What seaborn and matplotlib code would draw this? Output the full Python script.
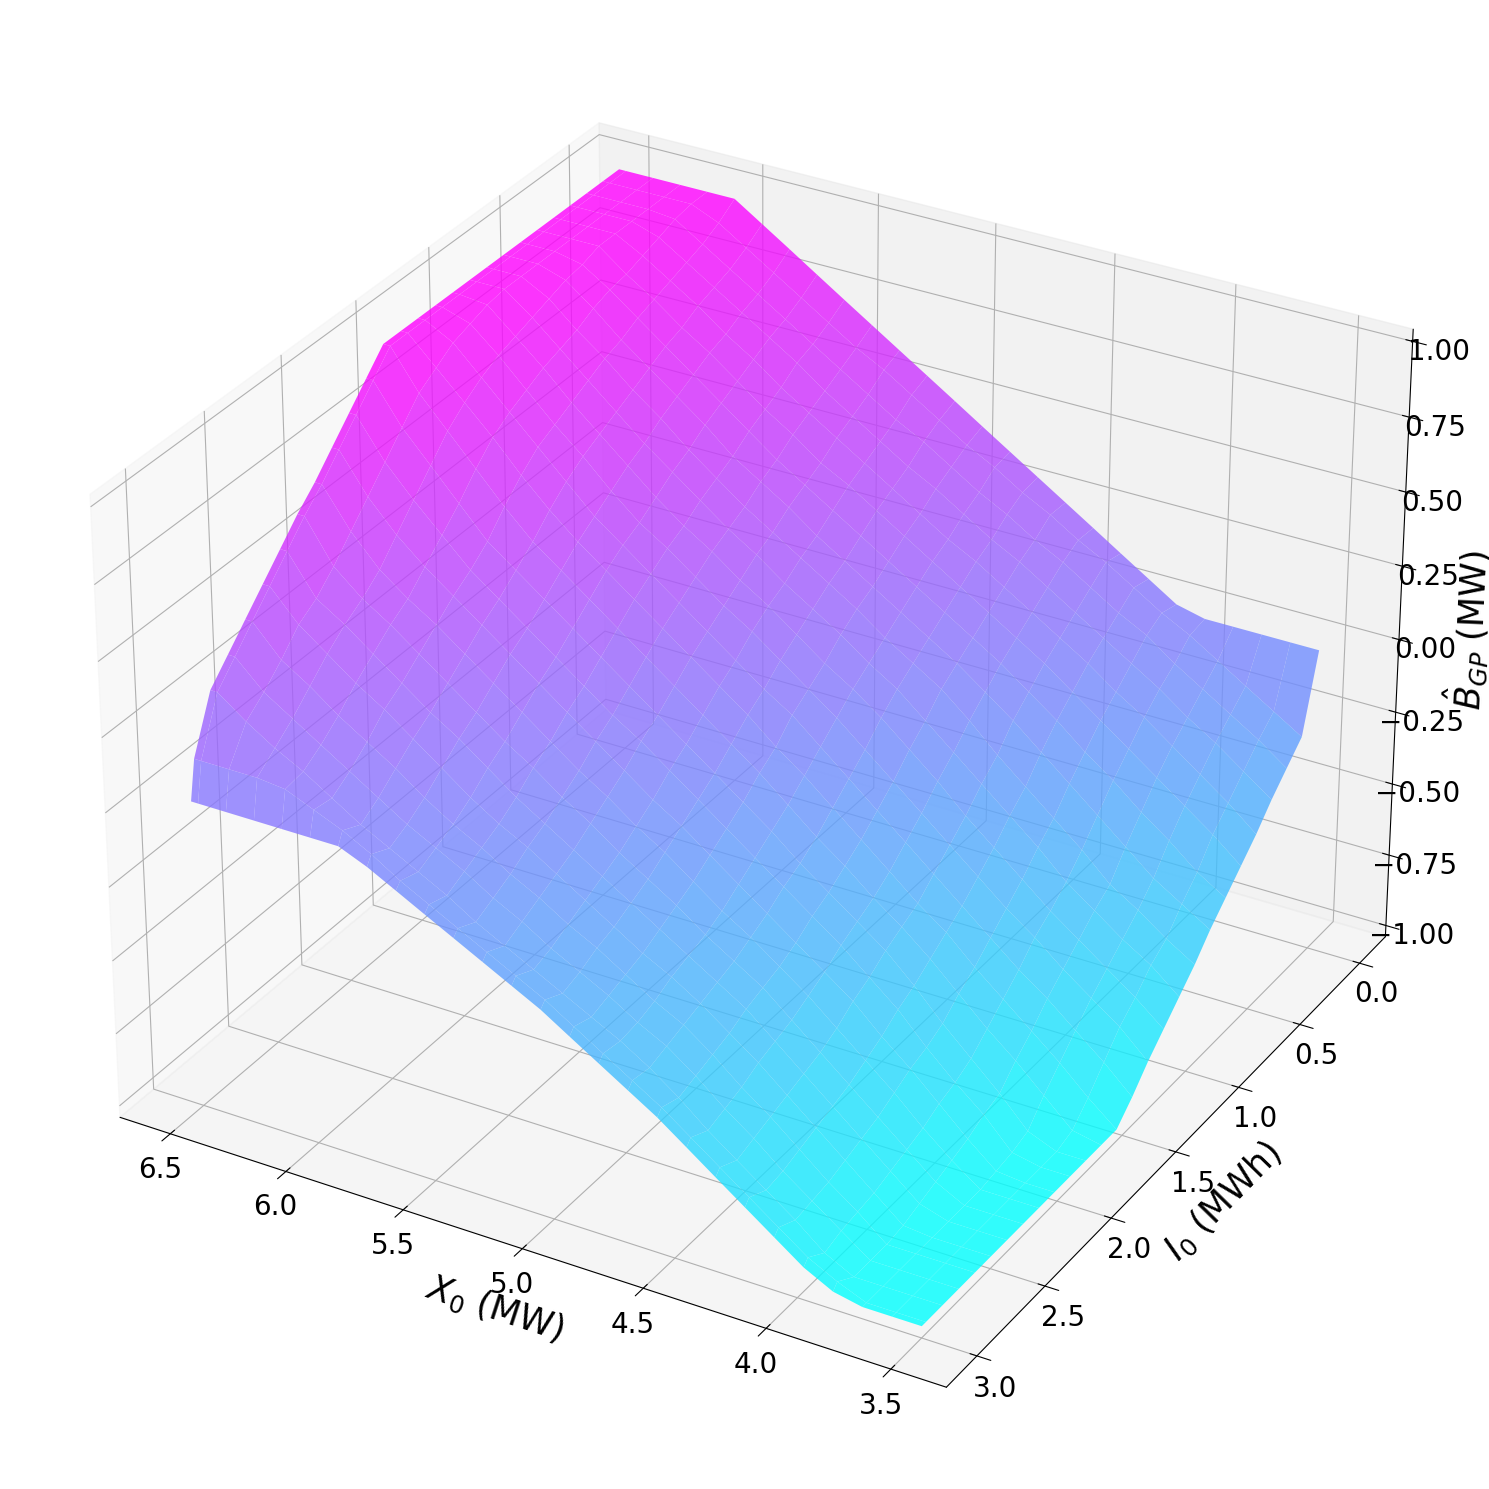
import numpy as np
import matplotlib
matplotlib.use("Agg")
import matplotlib.pyplot as plt
import seaborn as sns

# Surface axes (MW, MWh)
x0_mw = [3.5, 3.619, 3.738, 3.856, 3.975, 4.094, 4.213, 4.332, 4.45, 4.569, 4.688, 4.807, 4.926, 5.044,
         5.163, 5.282, 5.401, 5.52, 5.638, 5.757, 5.876, 5.995, 6.114, 6.232, 6.351, 6.47, 6.5]
i0_mwh = [0.0, 0.119, 0.238, 0.356, 0.475, 0.594, 0.713, 0.832, 0.95, 1.069, 1.188, 1.307, 1.426, 1.544,
          1.663, 1.782, 1.901, 2.02, 2.138, 2.257, 2.376, 2.495, 2.614, 2.732, 2.851, 2.97, 3.0]

# B_GP in hundredths of a MW, one row per I0 value, one column per X0 value
b_gp_centi_mw = [
 [0,0,0,0,0,2.3,8.4,14.5,20.6,26.7,32.8,38.9,45,51.1,57.2,63.3,69.4,75.5,81.6,87.8,93.9,100,100,100,100,100,100],
 [-25,-19,-13,-7,-1,4,10,16,21,27,32,38,43,49,55,61,66,72,78,84,90,96,100,100,100,100,100],
 [-31,-24,-18,-12,-6,1,6,12,18,23,29,34,40,46,51,57,63,69,75,81,87,93,99,100,100,100,100],
 [-37,-30,-23,-17,-10,-4,2,8,14,20,25,31,37,42,48,54,60,67,73,79,85,91,97,100,100,100,100],
 [-44,-36,-29,-22,-15,-9,-2,4,10,16,22,27,33,39,45,51,57,63,70,76,83,89,95,100,100,100,100],
 [-50,-42,-35,-28,-21,-14,-7,0,6,12,18,24,30,36,42,47,54,60,67,74,80,87,93,100,100,100,100],
 [-56,-50,-42,-35,-27,-20,-12,-5,2,8,14,20,26,32,38,44,50,57,64,71,78,85,92,98,100,100,100],
 [-62,-56,-50,-42,-34,-26,-18,-10,-3,4,10,16,22,28,34,41,47,53,61,68,75,82,90,97,100,100,100],
 [-69,-63,-56,-50,-41,-33,-25,-17,-8,0,6,12,19,25,31,37,43,50,57,65,72,80,87,95,100,100,100],
 [-75,-67,-61,-54,-47,-38,-30,-22,-14,-6,2,8,15,21,27,34,40,47,54,61,69,77,85,93,100,100,100],
 [-81,-73,-66,-59,-52,-44,-36,-28,-19,-11,-3,4,10,17,24,30,37,43,50,58,66,74,83,91,99,100,100],
 [-87,-78,-71,-64,-56,-49,-41,-33,-25,-17,-9,-1,6,13,20,26,33,40,46,54,63,71,80,89,97,100,100],
 [-94,-85,-77,-69,-62,-54,-46,-38,-30,-22,-14,-6,2,8,15,22,29,36,43,50,59,68,77,86,95,100,100],
 [-100,-92,-83,-75,-67,-59,-50,-43,-35,-27,-19,-11,-4,4,11,18,25,32,39,46,54,63,73,82,91,100,100],
 [-100,-98,-89,-80,-72,-63,-54,-46,-39,-31,-24,-16,-8,-1,6,13,20,27,34,41,48,57,67,77,87,100,100],
 [-100,-100,-96,-86,-77,-68,-58,-49,-42,-35,-28,-20,-13,-6,1,8,15,22,29,36,43,50,60,70,80,93,93],
 [-100,-100,-98,-88,-80,-71,-61,-53,-45,-38,-31,-24,-17,-10,-3,4,10,17,24,31,38,45,54,63,73,86,86],
 [-100,-100,-99,-91,-82,-73,-65,-56,-49,-42,-35,-28,-21,-14,-8,-1,6,13,20,27,34,41,48,56,66,79,79],
 [-100,-100,-100,-93,-85,-76,-68,-60,-52,-45,-38,-32,-25,-18,-12,-5,1,8,15,22,29,36,42,49,59,72,72],
 [-100,-100,-100,-95,-87,-79,-71,-63,-55,-47,-41,-35,-28,-22,-16,-9,-3,4,10,17,24,31,38,44,52,66,66],
 [-100,-100,-100,-97,-89,-81,-73,-65,-57,-49,-43,-37,-31,-25,-19,-13,-7,-1,6,13,19,26,33,40,46,59,59],
 [-100,-100,-100,-99,-91,-83,-75,-67,-59,-52,-45,-39,-34,-28,-22,-16,-10,-5,1,8,15,22,28,35,42,52,52],
 [-100,-100,-100,-100,-92,-85,-77,-69,-62,-54,-47,-42,-36,-30,-25,-19,-14,-8,-3,3,10,16,22,29,35,45,45],
 [-100,-100,-100,-100,-93,-86,-79,-71,-64,-56,-49,-44,-38,-33,-28,-22,-17,-11,-6,-1,5,11,17,23,29,38,38],
 [-100,-100,-100,-100,-95,-87,-80,-73,-66,-58,-51,-45,-40,-35,-30,-25,-20,-14,-9,-4,1,7,13,18,24,31,31],
 [-100,-100,-100,-96,-91,-84,-77,-70,-63,-56,-50,-44,-38,-32,-27,-22,-17,-12,-7,-1,4,8,12,13,13,13,13],
 [-100,-100,-100,-98,-93,-86,-79,-72,-65,-58,-52,-46,-40,-34,-29,-24,-19,-14,-9,-4,0,0,0,0,0,0,0],
]
x_ticks = [3.5, 4.0, 4.5, 5.0, 5.5, 6.0, 6.5]
y_ticks = [0.0, 0.5, 1.0, 1.5, 2.0, 2.5, 3.0]

sns.set_style("white", rc={'text.color': 'black', 'axes.labelcolor': 'black', 'xtick.color': 'black',
                           'ytick.color': 'black', 'grid.color': '#b0b0b0', 'axes.edgecolor': 'black',
                           'axes.linewidth': 0.8, 'grid.linewidth': 0.8, 'lines.linewidth': 1.5})
plt.rcParams['font.family'] = ['DejaVu Sans']

X, Y = np.meshgrid(x0_mw, i0_mwh)
Z = np.array(b_gp_centi_mw) / 100.0

fig = plt.figure(figsize=(14.89, 14.89), dpi=100)
ax = fig.add_axes([0.006, 0.006, 0.988, 0.988], projection='3d')
ax.plot_surface(X, Y, Z, cmap=sns.color_palette('cool', as_cmap=True), alpha=0.8,
                linewidth=0, antialiased=True, rstride=1, cstride=1)
ax.set_xlim(3.28, 6.72)
ax.set_ylim(-0.22, 3.22)
ax.set_zlim(-1.04, 1.04)
ax.view_init(30, 120)
ax.tick_params(labelsize=20)
ax.set_xticks(x_ticks)
ax.set_yticks(y_ticks)
ax.set_xlabel(r'$X_0$ (MW)', fontsize=25, labelpad=10)
ax.set_ylabel(r'$I_0$ (MWh)', fontsize=25, labelpad=11)
ax.set_zlabel(r'$\hat{B}_{GP}$ (MW)', fontsize=25, labelpad=10)
fig.savefig('out.png', dpi=100)
